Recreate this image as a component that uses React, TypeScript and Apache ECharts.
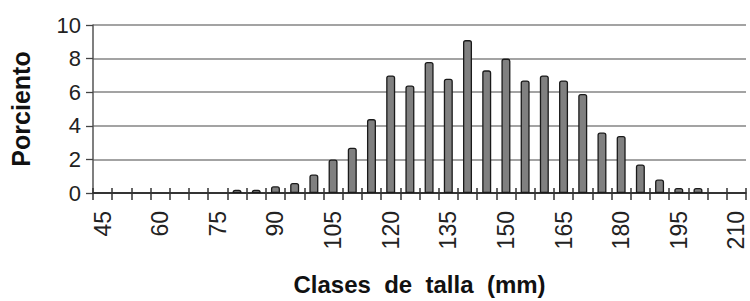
import React, { useEffect, useRef } from "react";
import * as echarts from "echarts";

const categories: string[] = [
  "45", "50", "55", "60", "65", "70", "75", "80", "85", "90", "95", "100",
  "105", "110", "115", "120", "125", "130", "135", "140", "145", "150",
  "155", "160", "165", "170", "175", "180", "185", "190", "195", "200",
  "205", "210",
];

const porciento: (number | null)[] = [
  null, null, null, null, null, null, null, 0.2, 0.2, 0.4, 0.6, 1.1,
  2.0, 2.7, 4.4, 7.0, 6.4, 7.8, 6.8, 9.1, 7.3, 8.0,
  6.7, 7.0, 6.7, 5.9, 3.6, 3.4, 1.7, 0.8, 0.3, 0.3,
  null, null,
];

const yTitle = "Porciento";
const xTitle = "Clases  de  talla  (mm)";

const FONT = "'Liberation Sans', Arial, sans-serif";

export default function App() {
  const ref = useRef<HTMLDivElement>(null);

  useEffect(() => {
    if (!ref.current) return;
    const chart = echarts.init(ref.current, undefined, { renderer: "svg" });
    chart.setOption({
      animation: false,
      backgroundColor: "#ffffff",
      textStyle: { fontFamily: FONT },
      grid: {
        left: 93,
        right: 4,
        top: 25,
        bottom: 108,
        containLabel: false,
        outerBoundsMode: "none",
      },
      xAxis: [
        {
          type: "category",
          data: categories,
          boundaryGap: true,
          position: "bottom",
          axisLine: { show: true, lineStyle: { color: "#111", width: 1.5 } },
          axisTick: {
            show: true,
            interval: 0,
            alignWithLabel: false,
            inside: false,
            length: 7,
            lineStyle: { color: "#333", width: 1.5 },
          },
          axisLabel: {
            interval: 2,
            rotate: 90,
            margin: 18,
            fontSize: 23,
            color: "#222",
            fontFamily: FONT,
          },
          name: xTitle,
          nameLocation: "middle",
          nameGap: 79,
          nameTextStyle: {
            fontSize: 24,
            fontWeight: "bold",
            color: "#111",
            fontFamily: FONT,
          },
          splitLine: { show: false },
        },
        {
          type: "category",
          data: categories,
          boundaryGap: true,
          position: "bottom",
          axisLine: { show: false },
          axisTick: {
            show: true,
            interval: 0,
            alignWithLabel: false,
            inside: true,
            length: 5,
            lineStyle: { color: "#333", width: 1.5 },
          },
          axisLabel: { show: false },
          splitLine: { show: false },
        },
      ],
      yAxis: {
        type: "value",
        min: 0,
        max: 10,
        interval: 2,
        axisLine: { show: true, lineStyle: { color: "#555", width: 1.5 } },
        axisTick: {
          show: true,
          inside: false,
          length: 7,
          lineStyle: { color: "#444", width: 1.3 },
        },
        axisLabel: {
          margin: 12,
          fontSize: 22,
          color: "#222",
          fontFamily: FONT,
        },
        splitLine: { show: true, lineStyle: { color: "#a3a3a3", width: 1.8 } },
        name: yTitle,
        nameLocation: "middle",
        nameGap: 60,
        nameTextStyle: {
          fontSize: 25,
          fontWeight: "bold",
          color: "#111",
          fontFamily: FONT,
        },
      },
      series: [
        {
          type: "bar",
          xAxisIndex: 0,
          data: porciento,
          barWidth: 9,
          itemStyle: {
            color: "#808080",
            borderColor: "#1a1a1a",
            borderWidth: 1.3,
            borderRadius: [2, 2, 0, 0],
          },
          z: 3,
        },
      ],
    });
    return () => chart.dispose();
  }, []);

  return (
    <div
      ref={ref}
      style={{ position: "fixed", left: 0, top: 0, width: 750, height: 301 }}
    />
  );
}
